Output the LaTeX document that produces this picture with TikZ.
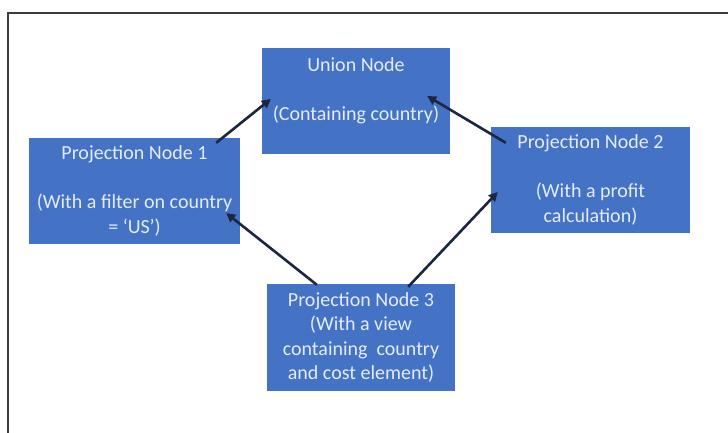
\documentclass[tikz,border=0pt]{standalone}
\usepackage{fontspec}
\setmainfont{Carlito}
\usetikzlibrary{arrows.meta,calc}
\definecolor{boxblue}{HTML}{4472C4}
\definecolor{boxtext}{RGB}{228,236,250}
\definecolor{arrowc}{RGB}{28,38,66}
\definecolor{framec}{RGB}{60,60,60}
\tikzset{
  pbox/.style={draw=none, fill=boxblue, text=boxtext, align=center, inner sep=0pt,
    font=\fontsize{20}{24.5}\selectfont},
  conn/.style={draw=arrowc, line width=2.6pt, -{Triangle[length=9pt,width=9pt]}}
}
\begin{document}
\begin{tikzpicture}[x=1pt,y=-1pt]
\useasboundingbox (0,0) rectangle (728,432);
\fill[white] (0,0) rectangle (728,432);
\draw[framec, line width=1.8pt] (8,445) -- (8,13) -- (745,13);
\node[pbox, minimum width=188pt, minimum height=106pt] (un) at (356,101)
  {Union Node\\[24.5pt](Containing country)\\\mbox{}};
\node[pbox, minimum width=211pt, minimum height=106pt] (p1) at (134.5,191)
  {Projection Node 1\\[24.5pt](With a filter on country\\= `US')};
\node[pbox, minimum width=199pt, minimum height=106pt] (p2) at (590.5,180)
  {Projection Node 2\\[24.5pt](With a profit\\calculation)};
\node[pbox, minimum width=188pt, minimum height=107pt] (p3) at (361,337.5)
  {Projection Node 3\\(With a view\\containing\ \ country\\and cost element)};
\draw[conn] ($(p1.north east)+(-24,5)$) -- ($(un.west)+(9,-2)$);
\draw[conn] ($(p2.north west)+(15,16)$) -- ($(un.east)+(-23,-5)$);
\draw[conn] ($(p3.north west)+(50,1)$) -- ($(p1.east)+(-14,22)$);
\draw[conn] ($(p3.north east)+(-47,3)$) -- ($(p2.west)+(7,12)$);
\end{tikzpicture}
\end{document}
